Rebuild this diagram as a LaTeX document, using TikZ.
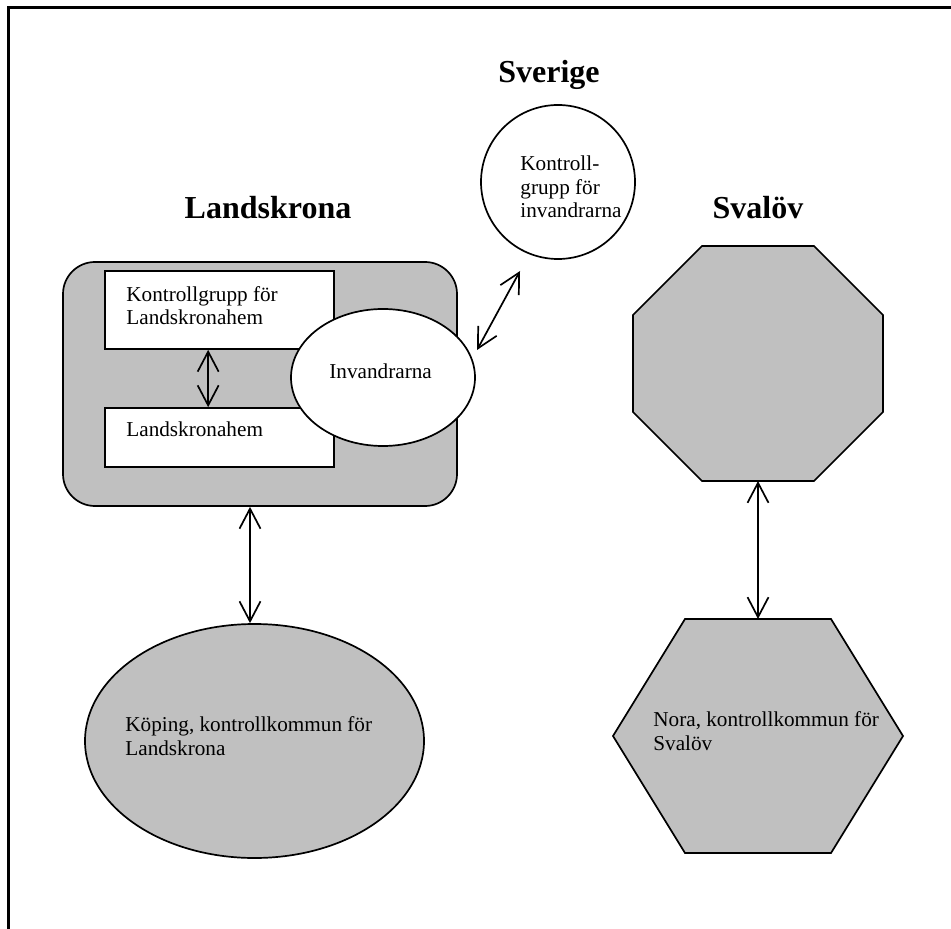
\documentclass[tikz,border=0pt]{standalone}
\usepackage{fontspec}
\setmainfont{Liberation Serif}
\usetikzlibrary{shapes.geometric,arrows.meta,calc}
\definecolor{grayfill}{HTML}{C0C0C0}
\begin{document}
\begin{tikzpicture}[x=0.5pt,y=-0.5pt,
  lw/.style={line width=0.85pt},
  shp/.style={draw=black, lw, fill=grayfill, inner sep=0pt},
  wbox/.style={draw=black, lw, fill=white, rectangle, inner sep=0pt, minimum width=114.5pt},
  txt/.style={inner sep=0pt, anchor=base west, align=left, font=\fontsize{10.6}{11.8}\selectfont},
  ttl/.style={inner sep=0pt, anchor=base, font=\fontsize{16}{19}\selectfont\bfseries},
  arr/.style={lw, {Straight Barb[length=10pt,width=10.5pt]}-{Straight Barb[length=10pt,width=10.5pt]}}
]
\useasboundingbox (0,0) rectangle (951,929);
% frame
\coordinate (f1) at (951,7.5);
\coordinate (f0) at (7,7.5);
\coordinate (f2) at (8.5,929);
\draw[line width=1.2pt] (f0) -- (f1);
\draw[line width=1.2pt] (8.5,7) -- (f2);

% Landskrona group
\node[shp, rectangle, rounded corners=16pt, minimum width=197pt, minimum height=122pt] (lk) at (260,384) {};
\node[wbox, minimum height=39pt] (kg) at (219.5,310) {};
\node[wbox, minimum height=29.5pt] (lh) at (219.5,437.5) {};
\node[ellipse, draw=black, lw, fill=white, inner sep=0pt, minimum width=92pt, minimum height=68.5pt] (inv) at (383,377.5) {};

% Sverige circle
\node[circle, draw=black, lw, fill=white, inner sep=0pt, minimum size=77pt] (sv) at (558,182) {};

% Koping ellipse
\node[ellipse, shp, minimum width=169.5pt, minimum height=117pt] (kop) at (254.5,741) {};

% Svalov octagon
\draw[shp] (702,246) -- (814,246) -- (883,315) -- (883,412) -- (814,481) -- (702,481) -- (633,412) -- (633,315) -- cycle;
\coordinate (octb) at (758,481);
% Nora hexagon
\draw[shp] (685,619) -- (831,619) -- (903,736) -- (831,853) -- (685,853) -- (613,736) -- cycle;
\coordinate (hext) at (758,619);

% titles
\node[ttl] (h1) at (549,83) {Sverige};
\node[ttl] (h2) at (268,219) {Landskrona};
\node[ttl] (h3) at (758,219) {Svalöv};

% texts (anchor = baseline of last line)
\node[txt] (t1) at (126,325) {Kontrollgrupp för\\Landskronahem};
\node[txt] (t2) at (126,437) {Landskronahem};
\node[txt] (t3) at (329,379) {Invandrarna};
\node[txt] (t4) at (520,218) {Kontroll-\\grupp för\\invandrarna};
\node[txt] (t5) at (125,755) {Köping, kontrollkommun för\\Landskrona};
\node[txt] (t6) at (653,750) {Nora, kontrollkommun för\\Svalöv};

% connectors
\draw[arr] ([xshift=52pt]kg.south west) -- ([xshift=52pt]lh.north west);
\coordinate (a1) at (520,271);
\coordinate (a2) at (477,350);
\draw[arr] (a1) -- (a2);
\draw[arr] ([xshift=-5pt]lk.south) -- ([xshift=-5pt]lk.south |- kop.north);
\draw[arr] (octb) -- (hext);
\end{tikzpicture}
\end{document}
